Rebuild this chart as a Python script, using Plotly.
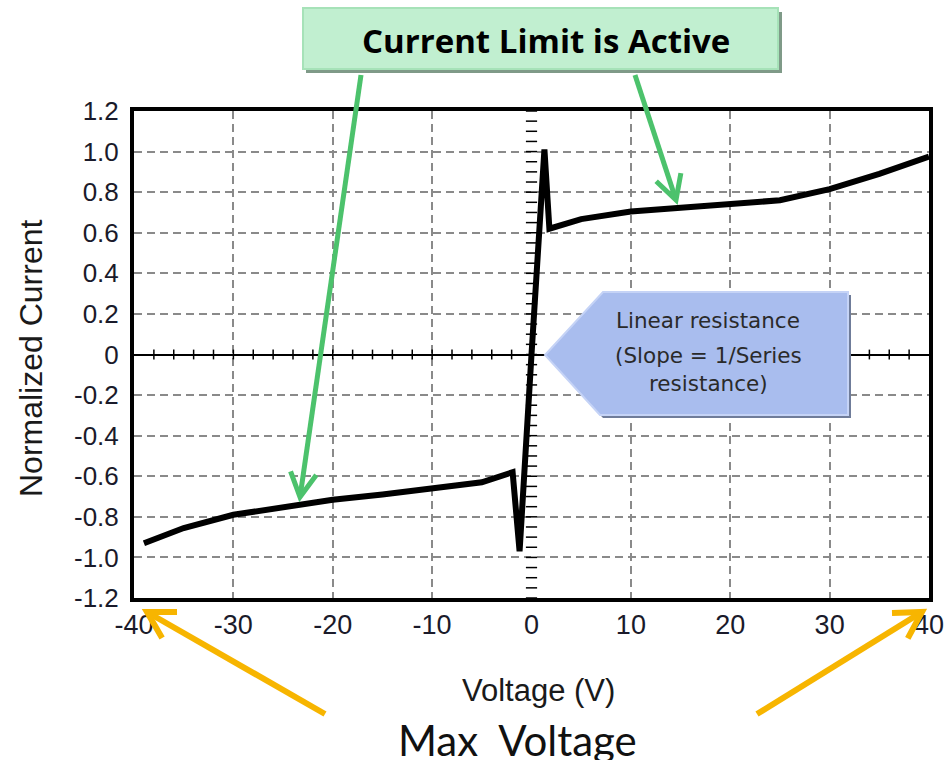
import math
import plotly.graph_objects as go

# ---------------- data ----------------
voltage = [-39, -35, -30, -25, -20, -15, -10, -5, -1.9, -1.2, 0, 1.3, 1.8, 5, 10, 15, 20, 25, 30, 35, 40]
current = [-0.93, -0.855, -0.79, -0.75, -0.716, -0.69, -0.66, -0.63, -0.58, -0.97, 0.0, 1.01, 0.62,
           0.667, 0.705, 0.725, 0.738, 0.76, 0.815, 0.89, 0.975]

x_ticks = [-40, -30, -20, -10, 0, 10, 20, 30, 40]
x_tick_text = ["-40", "-30", "-20", "-10", "0", "10", "20", "30", "40"]
y_ticks = [-1.2, -1.0, -0.8, -0.6, -0.4, -0.2, 0, 0.2, 0.4, 0.6, 0.8, 1.0, 1.2]
y_tick_text = ["-1.2", "-1.0", "-0.8", "-0.6", "-0.4", "-0.2", "0", "0.2", "0.4", "0.6", "0.8", "1.0", "1.2"]

axis_tick_x = [v for v in range(-38, 40, 2) if v != 0]
axis_tick_y = [round(-1.2 + 0.05 * i, 2) for i in range(49)]

# ---------------- layout helpers ----------------
W, H = 946, 760
L, R, T, B = 134, 17, 111, 162
PW, PH = W - L - R, H - T - B


def P(xp, yp):
    return (xp - L) / PW, (H - B - yp) / PH


TICKFONT = "Liberation Sans Narrow, Arial Narrow, Liberation Sans, Arial, sans-serif"

fig = go.Figure()

fig.add_trace(go.Scatter(x=axis_tick_x, y=[0] * len(axis_tick_x), mode="markers",
                         marker=dict(symbol="line-ns", size=7, line=dict(width=1.5, color="black")),
                         hoverinfo="skip", showlegend=False))
fig.add_trace(go.Scatter(x=[0] * len(axis_tick_y), y=axis_tick_y, mode="markers",
                         marker=dict(symbol="line-ew", size=8, line=dict(width=1.5, color="black")),
                         hoverinfo="skip", showlegend=False))
fig.add_trace(go.Scatter(x=voltage, y=current, mode="lines",
                         line=dict(color="black", width=6), showlegend=False))

shapes = []
annotations = []


def rect(x0, y0, x1, y1, fill, line_color=None, lw=0):
    a = P(x0, y0)
    b = P(x1, y1)
    shapes.append(dict(type="rect", xref="paper", yref="paper", x0=a[0], y0=b[1], x1=b[0], y1=a[1],
                       fillcolor=fill, line=dict(color=line_color or fill, width=lw), layer="above"))


def poly(pts, fill, line_color=None, lw=0):
    path = "M " + " L ".join("%f,%f" % P(x, y) for x, y in pts) + " Z"
    shapes.append(dict(type="path", xref="paper", yref="paper", path=path, fillcolor=fill,
                       line=dict(color=line_color or fill, width=lw), layer="above"))


def arrow(tail, head, color, lw, hl, hw):
    tx, ty = tail
    hx, hy = head
    d = math.hypot(hx - tx, hy - ty)
    ux, uy = (hx - tx) / d, (hy - ty) / d
    nx, ny = -uy, ux
    a = P(tx, ty)
    b = P(hx - ux * 2, hy - uy * 2)
    shapes.append(dict(type="line", xref="paper", yref="paper", x0=a[0], y0=a[1], x1=b[0], y1=b[1],
                       line=dict(color=color, width=lw), layer="above"))
    p1 = (hx - ux * hl + nx * hw, hy - uy * hl + ny * hw)
    p2 = (hx - ux * hl - nx * hw, hy - uy * hl - ny * hw)
    path = "M %f,%f L %f,%f L %f,%f" % (*P(*p1), *P(hx, hy), *P(*p2))
    shapes.append(dict(type="path", xref="paper", yref="paper", path=path,
                       line=dict(color=color, width=lw), layer="above"))


def text(s, xp, yp, size, family, color="black", angle=0, bold=False):
    x, y = P(xp, yp)
    annotations.append(dict(text=("<b>%s</b>" % s) if bold else s, x=x, y=y, xref="paper", yref="paper",
                            showarrow=False, xanchor="center", yanchor="middle", textangle=angle,
                            font=dict(size=size, family=family, color=color)))


# darker 0.2 gridline
shapes.append(dict(type="line", xref="x", yref="y", x0=-40, x1=40, y0=0.2, y1=0.2,
                   line=dict(color="#222222", width=1.5, dash="8px,5px"), layer="below"))

# green callout box
rect(306, 12, 782, 73, "#7f9a88")
rect(303, 8, 778, 69, "#c1efd0", "#a6e2b8", 2)
text("Current Limit is Active", 546, 41, 33, "Open Sans, Lato, Liberation Sans, sans-serif", bold=True)

# green arrows
arrow((361, 75), (300, 497), "#4cc26c", 5, 24, 13)
arrow((635, 75), (676, 200), "#4cc26c", 5, 24, 13)

# blue pentagon callout
poly([(548, 358), (606, 295), (851, 295), (851, 418), (603, 418)], "#6f7c99")
poly([(545, 355), (603, 292), (848, 292), (848, 415), (600, 415)], "#a9bdee", "#c5d3f6", 2)
CALLFONT = "DejaVu Sans, Verdana, Liberation Sans, sans-serif"
text("Linear resistance", 708, 320, 21.5, CALLFONT, "#2a2a2a")
text("(Slope = 1/Series", 708, 355, 21.5, CALLFONT, "#2a2a2a")
text("resistance)", 708, 383, 21.5, CALLFONT, "#2a2a2a")

# orange arrows
arrow((325, 714), (147, 612), "#f7b500", 6, 26, 15)
arrow((757, 714), (922, 612), "#f7b500", 6, 26, 15)

# texts
text("Max  Voltage", 517, 740, 42, "Lato, Open Sans, Liberation Sans, sans-serif", "#111111")
text("Voltage (V)", 538, 690, 31, TICKFONT, "#1a1a1a")
text("Normalized Current", 31, 358, 32, TICKFONT, "#1a1a1a", angle=-90)

fig.update_layout(
    width=W, height=H,
    margin=dict(l=L, r=R, t=T, b=B, autoexpand=False),
    paper_bgcolor="white", plot_bgcolor="white",
    showlegend=False,
    shapes=shapes, annotations=annotations,
    xaxis=dict(range=[-40, 40], tickvals=x_ticks, ticktext=x_tick_text, ticks="", ticklabelstandoff=0,
               automargin=False,
               showgrid=True, gridcolor="#8a8a8a", gridwidth=1.5, griddash="8px,5px",
               zeroline=True, zerolinecolor="white", zerolinewidth=2,
               showline=True, linecolor="black", linewidth=4, mirror=True,
               tickfont=dict(size=27, family=TICKFONT, color="#1a1a2a")),
    yaxis=dict(range=[-1.2, 1.2], tickvals=y_ticks, ticktext=y_tick_text, ticks="", ticklabelstandoff=6,
               automargin=False,
               showgrid=True, gridcolor="#8a8a8a", gridwidth=1.5, griddash="8px,5px",
               zeroline=True, zerolinecolor="black", zerolinewidth=1.5,
               showline=True, linecolor="black", linewidth=4, mirror=True,
               tickfont=dict(size=26, family=TICKFONT, color="#1a1a2a")),
)

fig.write_html("out.html", config={"displayModeBar": False},
               post_script="document.body.style.margin='0px';")
